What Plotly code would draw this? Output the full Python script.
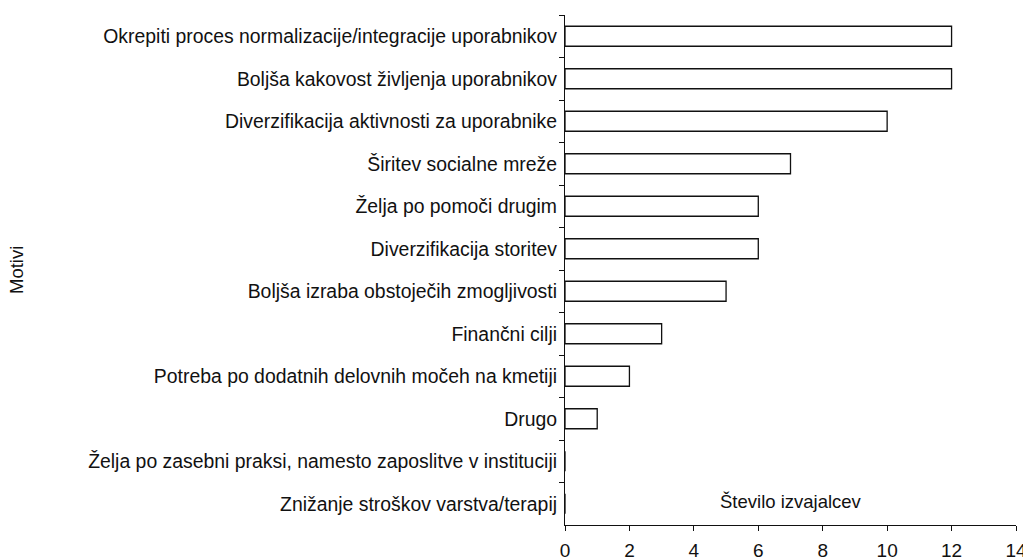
import plotly.graph_objects as go

categories = [
    "Okrepiti proces normalizacije/integracije uporabnikov",
    "Boljša kakovost življenja uporabnikov",
    "Diverzifikacija aktivnosti za uporabnike",
    "Širitev socialne mreže",
    "Želja po pomoči drugim",
    "Diverzifikacija storitev",
    "Boljša izraba obstoječih zmogljivosti",
    "Finančni cilji",
    "Potreba po dodatnih delovnih močeh na kmetiji",
    "Drugo",
    "Želja po zasebni praksi, namesto zaposlitve v instituciji",
    "Znižanje stroškov varstva/terapij",
]
values = [12, 12, 10, 7, 6, 6, 5, 3, 2, 1, 0, 0]
x_ticks = [0, 2, 4, 6, 8, 10, 12, 14]

FONT = "Liberation Sans, Arial, sans-serif"
L, R, T, B = 565, 7, 15, 35
W, H = 1023, 560
plot_w = W - L - R
plot_h = H - T - B

fig = go.Figure(go.Bar(
    x=values, y=categories, orientation="h",
    marker=dict(color="white", line=dict(color="#111111", width=1.3)),
    width=0.47,
))

fig.update_layout(
    width=W, height=H,
    margin=dict(l=L, r=R, t=T, b=B, autoexpand=False),
    paper_bgcolor="white", plot_bgcolor="white",
    font=dict(family=FONT, size=18.5, color="#111111"),
    showlegend=False,
    xaxis=dict(range=[0, 14], tickvals=x_ticks, showgrid=False, zeroline=False,
               showline=True, linecolor="#111111", linewidth=1.2,
               ticks="outside", ticklen=5, tickcolor="#111111",
               tickfont=dict(size=19), automargin=False,
               ticklabeloverflow="allow", ticklabelstandoff=3),
    yaxis=dict(type="category", autorange=False, range=[len(categories) - 0.5, -0.5],
               showgrid=False, zeroline=False,
               showline=True, linecolor="#111111", linewidth=1.2,
               ticks="outside", ticklen=5, tickcolor="#111111", tickson="boundaries",
               tickfont=dict(size=19.4),
               ticklabelstandoff=3, automargin=False),
    annotations=[
        dict(text="Število izvajalcev", x=7, y=categories[-1], xref="x", yref="y",
             yshift=2, showarrow=False, font=dict(size=18.5)),
        dict(text="Motivi", x=(16 - L) / plot_w, y=(H - B - 270) / plot_h,
             xref="paper", yref="paper", xanchor="center", yanchor="middle",
             showarrow=False, textangle=-90, font=dict(size=18.5)),
    ],
)

fig.write_html(
    "out.html",
    config={"displayModeBar": False},
    post_script="document.body.style.margin='0';document.body.style.overflow='hidden';",
)
